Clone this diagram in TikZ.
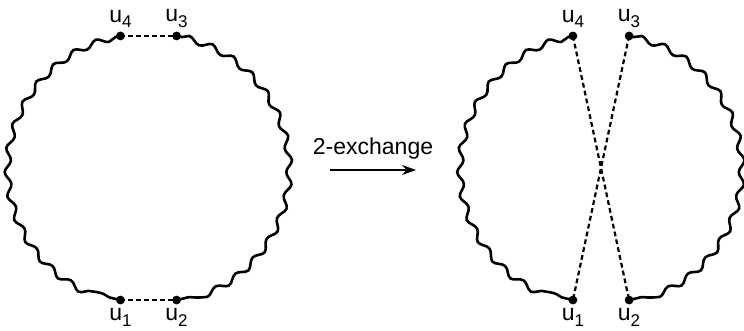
\documentclass[tikz,border=0pt]{standalone}
\usepackage{fontspec}
\setmainfont{Liberation Sans}
\usetikzlibrary{decorations.pathmorphing,positioning,arrows.meta}

\newcommand{\usub}[1]{u\raisebox{-0.45ex}{\fontsize{8.5}{9}\selectfont #1}}

\begin{document}
\begin{tikzpicture}[
  wavy/.style={line width=1.3pt, decorate,
    decoration={snake, segment length=12pt, amplitude=1.5pt, pre length=2.5pt, post length=2.5pt}},
  swap/.style={line width=1.1pt, dash pattern=on 2.4pt off 1.6pt},
  dot/.style={circle, fill, inner sep=0pt, minimum size=4.4pt},
  lbl/.style={inner sep=1pt, font=\fontsize{11.5}{13}\selectfont}]
\useasboundingbox (0,0) rectangle (372pt,165.5pt);
% left tour
\coordinate (Lc) at (74.25pt,81.5pt);
\coordinate (L1) at ([shift={(258:67.5pt)}]Lc);
\coordinate (L2) at ([shift={(282:67.5pt)}]Lc);
\coordinate (L3) at ([shift={(78:67.5pt)}]Lc);
\coordinate (L4) at ([shift={(102:67.5pt)}]Lc);
\draw[wavy] (L4) arc[start angle=102, end angle=258, radius=67.5pt];
\draw[wavy] (L3) arc[start angle=78, end angle=-78, radius=67.5pt];
\draw[swap] (L4) -- (L3);
\draw[swap] (L1) -- (L2);
% right tour
\coordinate (Rc) at (300.5pt,81.5pt);
\coordinate (R1) at ([shift={(258:67.5pt)}]Rc);
\coordinate (R2) at ([shift={(282:67.5pt)}]Rc);
\coordinate (R3) at ([shift={(78:67.5pt)}]Rc);
\coordinate (R4) at ([shift={(102:67.5pt)}]Rc);
\draw[wavy] (R4) arc[start angle=102, end angle=258, radius=67.5pt];
\draw[wavy] (R3) arc[start angle=78, end angle=-78, radius=67.5pt];
\draw[swap] (R4) -- (R2);
\draw[swap] (R3) -- (R1);
% dots and labels
\foreach \s in {L,R} {
  \foreach \i in {1,2,3,4}
    \node[dot] (\s\i dot) at (\s\i) {};
  \node[lbl, above=3pt of \s4] (\s4lbl) {\usub{4}};
  \node[lbl, above=3pt of \s3] (\s3lbl) {\usub{3}};
  \node[lbl, below=3pt of \s1] (\s1lbl) {\usub{1}};
  \node[lbl, below=3pt of \s2] (\s2lbl) {\usub{2}};
}
% the move
\coordinate (from) at (165pt,80.5pt);
\coordinate (to) at (208pt,80.5pt);
\draw[line width=0.8pt, -{Stealth[length=7pt,width=5pt]}] (from) -- node[lbl, above=4pt] (move) {2-exchange} (to);
\end{tikzpicture}
\end{document}
